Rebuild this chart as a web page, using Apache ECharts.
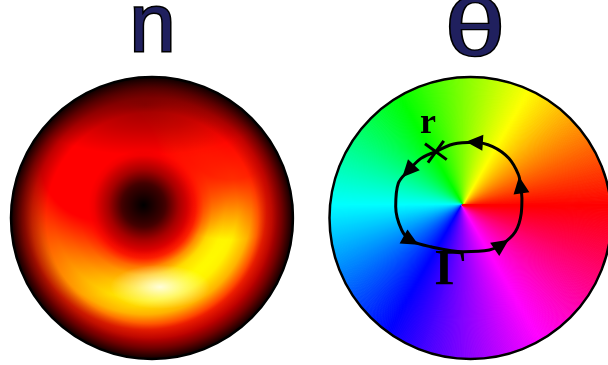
<!DOCTYPE html>
<html>
<head>
<meta charset="utf-8">
<script src="https://cdn.jsdelivr.net/npm/echarts@6/dist/echarts.min.js"></script>
<style>
  html, body { margin: 0; padding: 0; background: #fff; }
  #chart { width: 608px; height: 365px; }
</style>
</head>
<body>
<div id="chart"></div>
<script>
// ---- data (disk units: disk radius = 1, y pointing up) ----
// position of the vortex core, shared by the density and phase maps
const vortexCore = [-0.06, 0.092];
// centre of the bright density ring that surrounds the core
const ringCentre = [-0.05, 0.071];
// centres of the dim sides of the ring (upper left, upper right, top)
const dimSide = [-0.37, 0.41];
const dimSide2 = [0.553, 0.624];
const dimTop = [0, 0.87];
// density maximum, below the core
const densityPeak = [0.057, -0.489];
// darker cap along the top rim
const topRim = [-0.05, 0.8];
// phase of the order parameter, one sample per half degree
const phaseDeg = Array.from({ length: 720 }, (_, i) => i / 2);
// circulation contour Γ in flow order, starting and ending at the point r
const contour = [
  [-0.252, 0.470], [-0.360, 0.423], [-0.454, 0.333], [-0.525, 0.246],
  [-0.544, 0.080], [-0.501, -0.085], [-0.433, -0.160], [-0.289, -0.204],
  [-0.052, -0.239], [0.137, -0.227], [0.227, -0.188], [0.326, -0.097],
  [0.369, 0.033], [0.374, 0.140], [0.362, 0.234], [0.350, 0.305],
  [0.279, 0.423], [0.161, 0.506], [0.028, 0.537], [-0.123, 0.525],
  [-0.252, 0.470]
];
// contour points that carry a flow arrow
const arrowAt = [2, 6, 10, 14, 18];
// panel titles and annotation labels
const panelTitles = ['n', 'θ'];
const pointLabel = 'r';
const contourLabel = 'Γ';

// ---- layout ----
const DISK = 282;                       // disk diameter, px
const GRIDS = [{ left: 11, top: 77 }, { left: 333, top: 77 }];

const chart = echarts.init(document.getElementById('chart'), null, { renderer: 'canvas' });

function radial(stops) {
  return {
    type: 'radial', x: 0.5, y: 0.5, r: 0.5,
    colorStops: stops.map(s => ({ offset: s[0], color: s[1] }))
  };
}

// one soft, gradient-filled blob on the density disk
function layer(id, pos, size, fill, z) {
  return {
    id, type: 'scatter', xAxisIndex: 0, yAxisIndex: 0, z: z || 1,
    silent: true, animation: false,
    emphasis: { disabled: true },
    symbol: 'circle', symbolSize: size,
    itemStyle: { color: fill, opacity: 1 },
    data: [pos]
  };
}

const yellow = a => `rgba(255,255,0,${a})`;
const red = a => `rgba(255,0,0,${a})`;
const black = a => `rgba(0,0,0,${a})`;
const white = a => `rgba(255,255,255,${a})`;

const densitySeries = [
  layer('base', [0, 0], DISK, '#ff0000'),
  layer('ring', ringCentre, 280, radial([
    [0, yellow(0)], [0.30, yellow(0)], [0.36, yellow(0.2)], [0.42, yellow(0.7)],
    [0.48, yellow(0.95)], [0.57, yellow(1)], [0.66, yellow(0.95)], [0.76, yellow(0.7)],
    [0.87, yellow(0.12)], [0.95, yellow(0)], [1, yellow(0)]
  ])),
  layer('dim', dimSide, 300, radial([
    [0, red(1)], [0.4, red(1)], [0.64, red(0.55)], [0.8, red(0.25)],
    [0.9, red(0.08)], [1, red(0)]
  ])),
  layer('dim2', dimSide2, 220, radial([
    [0, red(1)], [0.45, red(0.8)], [0.75, red(0.35)], [1, red(0)]
  ])),
  layer('dimTop', dimTop, [280, 130], radial([
    [0, red(1)], [0.5, red(0.75)], [1, red(0)]
  ])),
  layer('peak', densityPeak, [100, 44], radial([
    [0, white(0.85)], [0.5, white(0.4)], [1, white(0)]
  ])),
  layer('core', vortexCore, 110, radial([
    [0, black(1)], [0.33, black(0.79)], [0.4, black(0.73)], [0.64, black(0.35)],
    [0.9, black(0.05)], [1, black(0)]
  ])),
  layer('rim', topRim, [250, 100], radial([
    [0, black(0.4)], [0.5, black(0.22)], [1, black(0)]
  ])),
  layer('edge', [0, 0], DISK, radial([
    [0, black(0)], [0.75, black(0)], [0.85, black(0.25)], [0.92, black(0.55)],
    [0.97, black(0.8)], [1, black(0.95)]
  ]))
];

function outline(id, gridIndex, z) {
  return {
    id, type: 'scatter', xAxisIndex: gridIndex, yAxisIndex: gridIndex, z,
    silent: true, animation: false, emphasis: { disabled: true },
    symbol: 'circle', symbolSize: DISK,
    itemStyle: { color: 'rgba(0,0,0,0)', borderColor: '#000', borderWidth: 2.5, opacity: 1 },
    data: [[0, 0]]
  };
}

function ringMask(id, inner, outer, z) {
  return {
    id, type: 'pie', z, silent: true, animation: false,
    radius: [inner, outer], center: [0, 0],
    label: { show: false }, labelLine: { show: false },
    emphasis: { disabled: true },
    itemStyle: { color: '#fff' },
    data: [1]
  };
}

// arrowheads oriented along the local direction of the contour
const arrowData = arrowAt.map(i => {
  const a = contour[i - 1], b = contour[i + 1];
  const ang = Math.atan2(b[1] - a[1], b[0] - a[0]) * 180 / Math.PI;
  return { value: contour[i], symbolRotate: ang - 90 };
});

const textStyle = (o) => Object.assign({
  align: 'center', verticalAlign: 'middle',
  textAlign: 'center', textVerticalAlign: 'middle'
}, o);

const option = {
  animation: false,
  grid: GRIDS.map(g => ({ left: g.left, top: g.top, width: DISK, height: DISK })),
  xAxis: [0, 1].map(i => ({ gridIndex: i, type: 'value', min: -1, max: 1, show: false })),
  yAxis: [0, 1].map(i => ({ gridIndex: i, type: 'value', min: -1, max: 1, show: false })),
  series: [
    ...densitySeries,
    ringMask('maskL', DISK / 2, 300, 2),
    outline('outlineL', 0, 3),
    {
      id: 'phase', type: 'pie', z: 4, silent: true, animation: false,
      radius: [0, 158], center: [0, 0],
      startAngle: 0, clockwise: false,
      label: { show: false }, labelLine: { show: false },
      emphasis: { disabled: true },
      data: phaseDeg.map(d => {
        const c = `hsl(${d + 0.25},100%,50%)`;
        return { value: 1, itemStyle: { color: c, borderColor: c, borderWidth: 1 } };
      })
    },
    ringMask('maskR', DISK / 2, 176, 5),
    outline('outlineR', 1, 6),
    {
      id: 'contour', type: 'line', xAxisIndex: 1, yAxisIndex: 1, z: 6,
      silent: true, animation: false, smooth: 0.35, symbol: 'none',
      lineStyle: { color: '#000', width: 3 },
      data: contour
    },
    {
      id: 'arrows', type: 'scatter', xAxisIndex: 1, yAxisIndex: 1, z: 7,
      silent: true, animation: false, emphasis: { disabled: true },
      symbol: 'path://M0,0 L10,20 L-10,20 Z', symbolSize: [16, 17],
      itemStyle: { color: '#000', opacity: 1 },
      data: arrowData
    },
    {
      id: 'point', type: 'scatter', xAxisIndex: 1, yAxisIndex: 1, z: 7,
      silent: true, animation: false, emphasis: { disabled: true },
      symbol: 'path://M-1,-1 L1,1 M-1,1 L1,-1', symbolSize: 19, symbolRotate: 9,
      itemStyle: { color: 'rgba(0,0,0,0)', borderColor: '#000', borderWidth: 3, opacity: 1 },
      data: [contour[0]]
    }
  ],
  graphic: [
    { type: 'text', x: 152.5, y: 28, z: 100, silent: true,
      style: textStyle({ text: panelTitles[0], fontSize: 82, fontFamily: 'Liberation Sans',
        fill: '#20205e', stroke: '#000', lineWidth: 3 }) },
    { type: 'text', x: 475, y: 33, z: 100, scaleX: 1.35, silent: true,
      style: textStyle({ text: panelTitles[1], fontSize: 80, fontFamily: 'Liberation Sans',
        fill: '#20205e', stroke: '#000', lineWidth: 2.5 }) },
    { type: 'text', x: 428, y: 124, z: 100, silent: true,
      style: textStyle({ text: pointLabel, fontSize: 36, fontFamily: 'Liberation Serif',
        fontWeight: 'bold', fill: '#000' }) },
    { type: 'text', x: 451, y: 271, z: 100, silent: true,
      style: textStyle({ text: contourLabel, fontSize: 50, fontFamily: 'Liberation Serif',
        fontWeight: 'bold', fill: '#000' }) }
  ]
};

chart.setOption(option);

// place the pie-based layers on the disks through the grid scales
const leftCentre = chart.convertToPixel({ gridIndex: 0 }, [0, 0]);
const rightCentre = chart.convertToPixel({ gridIndex: 1 }, [0, 0]);
const phaseCentre = chart.convertToPixel({ gridIndex: 1 }, vortexCore);
chart.setOption({
  series: [
    { id: 'maskL', center: leftCentre },
    { id: 'phase', center: phaseCentre },
    { id: 'maskR', center: rightCentre }
  ]
});
</script>
</body>
</html>
